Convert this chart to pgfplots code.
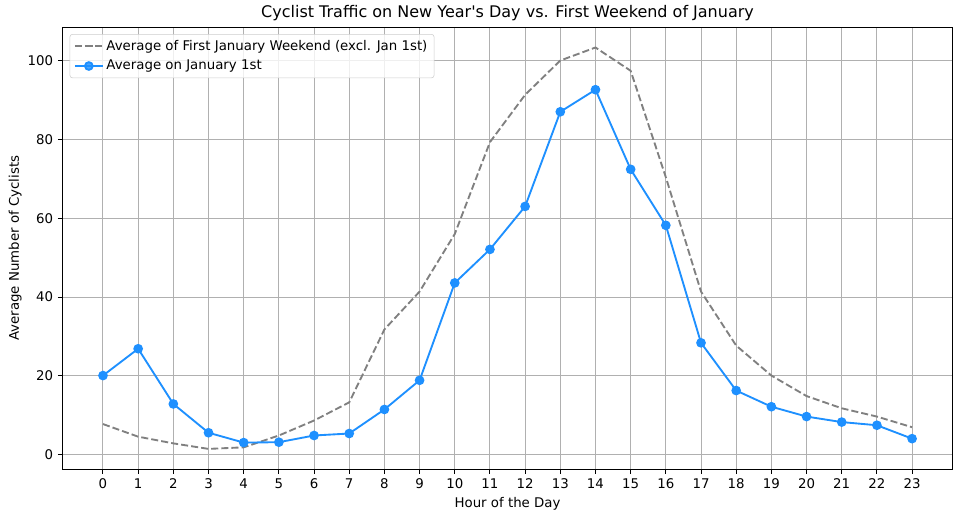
\documentclass[border=0pt]{standalone}
\usepackage{fontspec}
\setmainfont{DejaVu Sans}
\usepackage{pgfplots}
\pgfplotsset{compat=1.18}
\definecolor{dblue}{HTML}{1E90FF}
\definecolor{gridc}{HTML}{B0B0B0}
\definecolor{legc}{HTML}{CCCCCC}
\begin{document}
\begin{tikzpicture}
\useasboundingbox (-46.9pt,-37.5pt) rectangle (673.1pt,351.75pt);
\begin{axis}[
  at={(0,0)}, anchor=south west,
  scale only axis,
  width=667.5pt, height=331.2pt,
  xmin=-1.15, xmax=24.15,
  ymin=-3.6, ymax=108.4,
  xtick={0,1,...,23},
  ytick={0,20,40,60,80,100},
  /pgf/number format/assume math mode=true,
  tick label style={font=\fontsize{10}{12}\selectfont},
  label style={font=\fontsize{10}{12}\selectfont},
  ylabel shift=-2.25pt,
  title style={font=\fontsize{12}{14}\selectfont, yshift=-4.75pt},
  title={Cyclist Traffic on New Year\textquotesingle s Day vs. First Weekend of January},
  xlabel={Hour of the Day},
  ylabel={Average Number of Cyclists},
  grid=major,
  major grid style={gridc, line width=0.75pt},
  tick align=outside,
  tick pos=left,
  major tick length=3.5pt,
  every tick/.style={black, line width=0.75pt},
  axis line style={black, line width=0.75pt},
  legend cell align=left,
  legend style={font=\fontsize{10}{12}\selectfont, draw=legc, rounded corners=2pt, fill=white, fill opacity=0.8, text opacity=1, draw opacity=1, at={(0.008,0.985)}, anchor=north west, inner xsep=3pt, inner ysep=2.5pt, row sep=1.8pt},
  legend image code/.code={\draw[mark repeat=2,mark phase=2,#1] plot coordinates {(0pt,0pt) (10.5pt,0pt) (21pt,0pt)};},
  clip=false,
]
\addplot[gray, line width=1.4pt, dash pattern=on 5.3pt off 2.3pt] coordinates {
(0,7.8) (1,4.6) (2,2.9) (3,1.5) (4,1.9) (5,4.9) (6,8.7) (7,13.3) (8,31.8) (9,41.4)
(10,56.0) (11,79.3) (12,91.3) (13,100.0) (14,103.3) (15,97.4) (16,70.4) (17,41.4)
(18,27.7) (19,20.1) (20,14.9) (21,11.8) (22,9.7) (23,7.0)};
\addlegendentry{Average of First January Weekend (excl. Jan 1st)}
\addplot[dblue, line width=1.4pt, mark=*, mark size=2.9pt, mark options={solid, fill=dblue, draw=dblue}] coordinates {
(0,20.1) (1,26.9) (2,12.9) (3,5.6) (4,3.1) (5,3.2) (6,4.9) (7,5.4) (8,11.5) (9,18.9)
(10,43.6) (11,52.1) (12,63.0) (13,87.0) (14,92.6) (15,72.4) (16,58.2) (17,28.4)
(18,16.3) (19,12.2) (20,9.7) (21,8.3) (22,7.5) (23,4.1)};
\addlegendentry{Average on January 1st}
\end{axis}
\end{tikzpicture}
\end{document}
